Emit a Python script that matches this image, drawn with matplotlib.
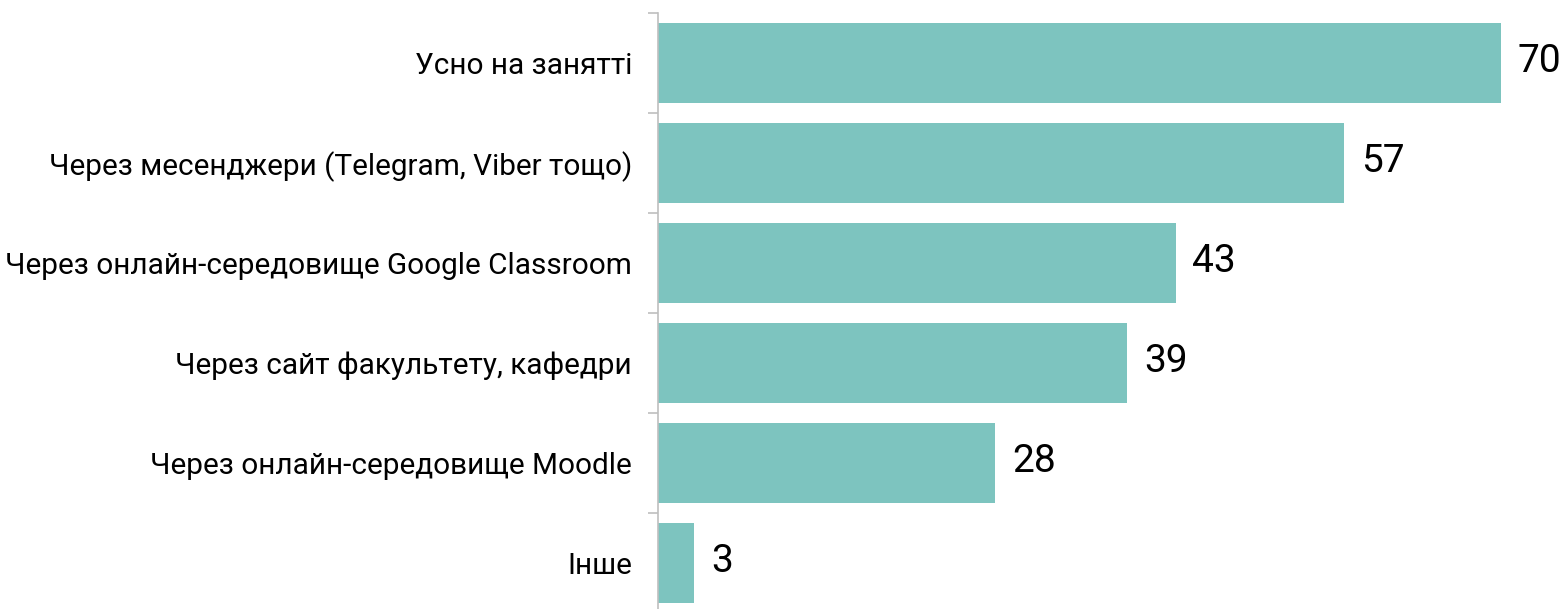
import matplotlib
matplotlib.use("Agg")
import matplotlib.pyplot as plt
import numpy as np

categories = ["Усно на занятті",
              "Через месенджери (Telegram, Viber тощо)",
              "Через онлайн-середовище Google Classroom",
              "Через сайт факультету, кафедри",
              "Через онлайн-середовище Moodle",
              "Інше"]
values = [70, 57, 43, 39, 28, 3]

plt.rcParams['font.family'] = ['Roboto', 'DejaVu Sans']

fig = plt.figure(figsize=(15.62, 6.09), dpi=100)
# axes runs slightly past the bottom edge, like the original crop
ax = fig.add_axes([658 / 1562, -4 / 609, 1 - 658 / 1562, 600 / 609])

y = np.arange(len(categories))
bars = ax.barh(y, values, height=0.8, color="#7DC4BF", edgecolor="none")
ax.set_ylim(len(categories) - 0.5, -0.5)
ax.set_xlim(0, 75.1)

for b, v in zip(bars, values):
    ax.text(b.get_width() + 1.4, b.get_y() + b.get_height() / 2 - 0.02, str(v),
            va="center", ha="left", fontsize=28, color="black")

# category labels, ticks at the boundaries
ax.set_yticks(y)
ax.set_yticklabels(categories, fontsize=21.4)
ax.tick_params(axis="y", which="major", length=0, pad=18.7)
ax.set_yticks(np.arange(-0.5, len(categories)), minor=True)
ax.tick_params(axis="y", which="minor", length=7, width=1.2, color="#BFBFBF")

ax.set_xticks([])
for s in ["top", "right", "bottom"]:
    ax.spines[s].set_visible(False)
ax.spines["left"].set_color("#BFBFBF")
ax.spines["left"].set_linewidth(1.2)

fig.savefig("out.png", dpi=100)
